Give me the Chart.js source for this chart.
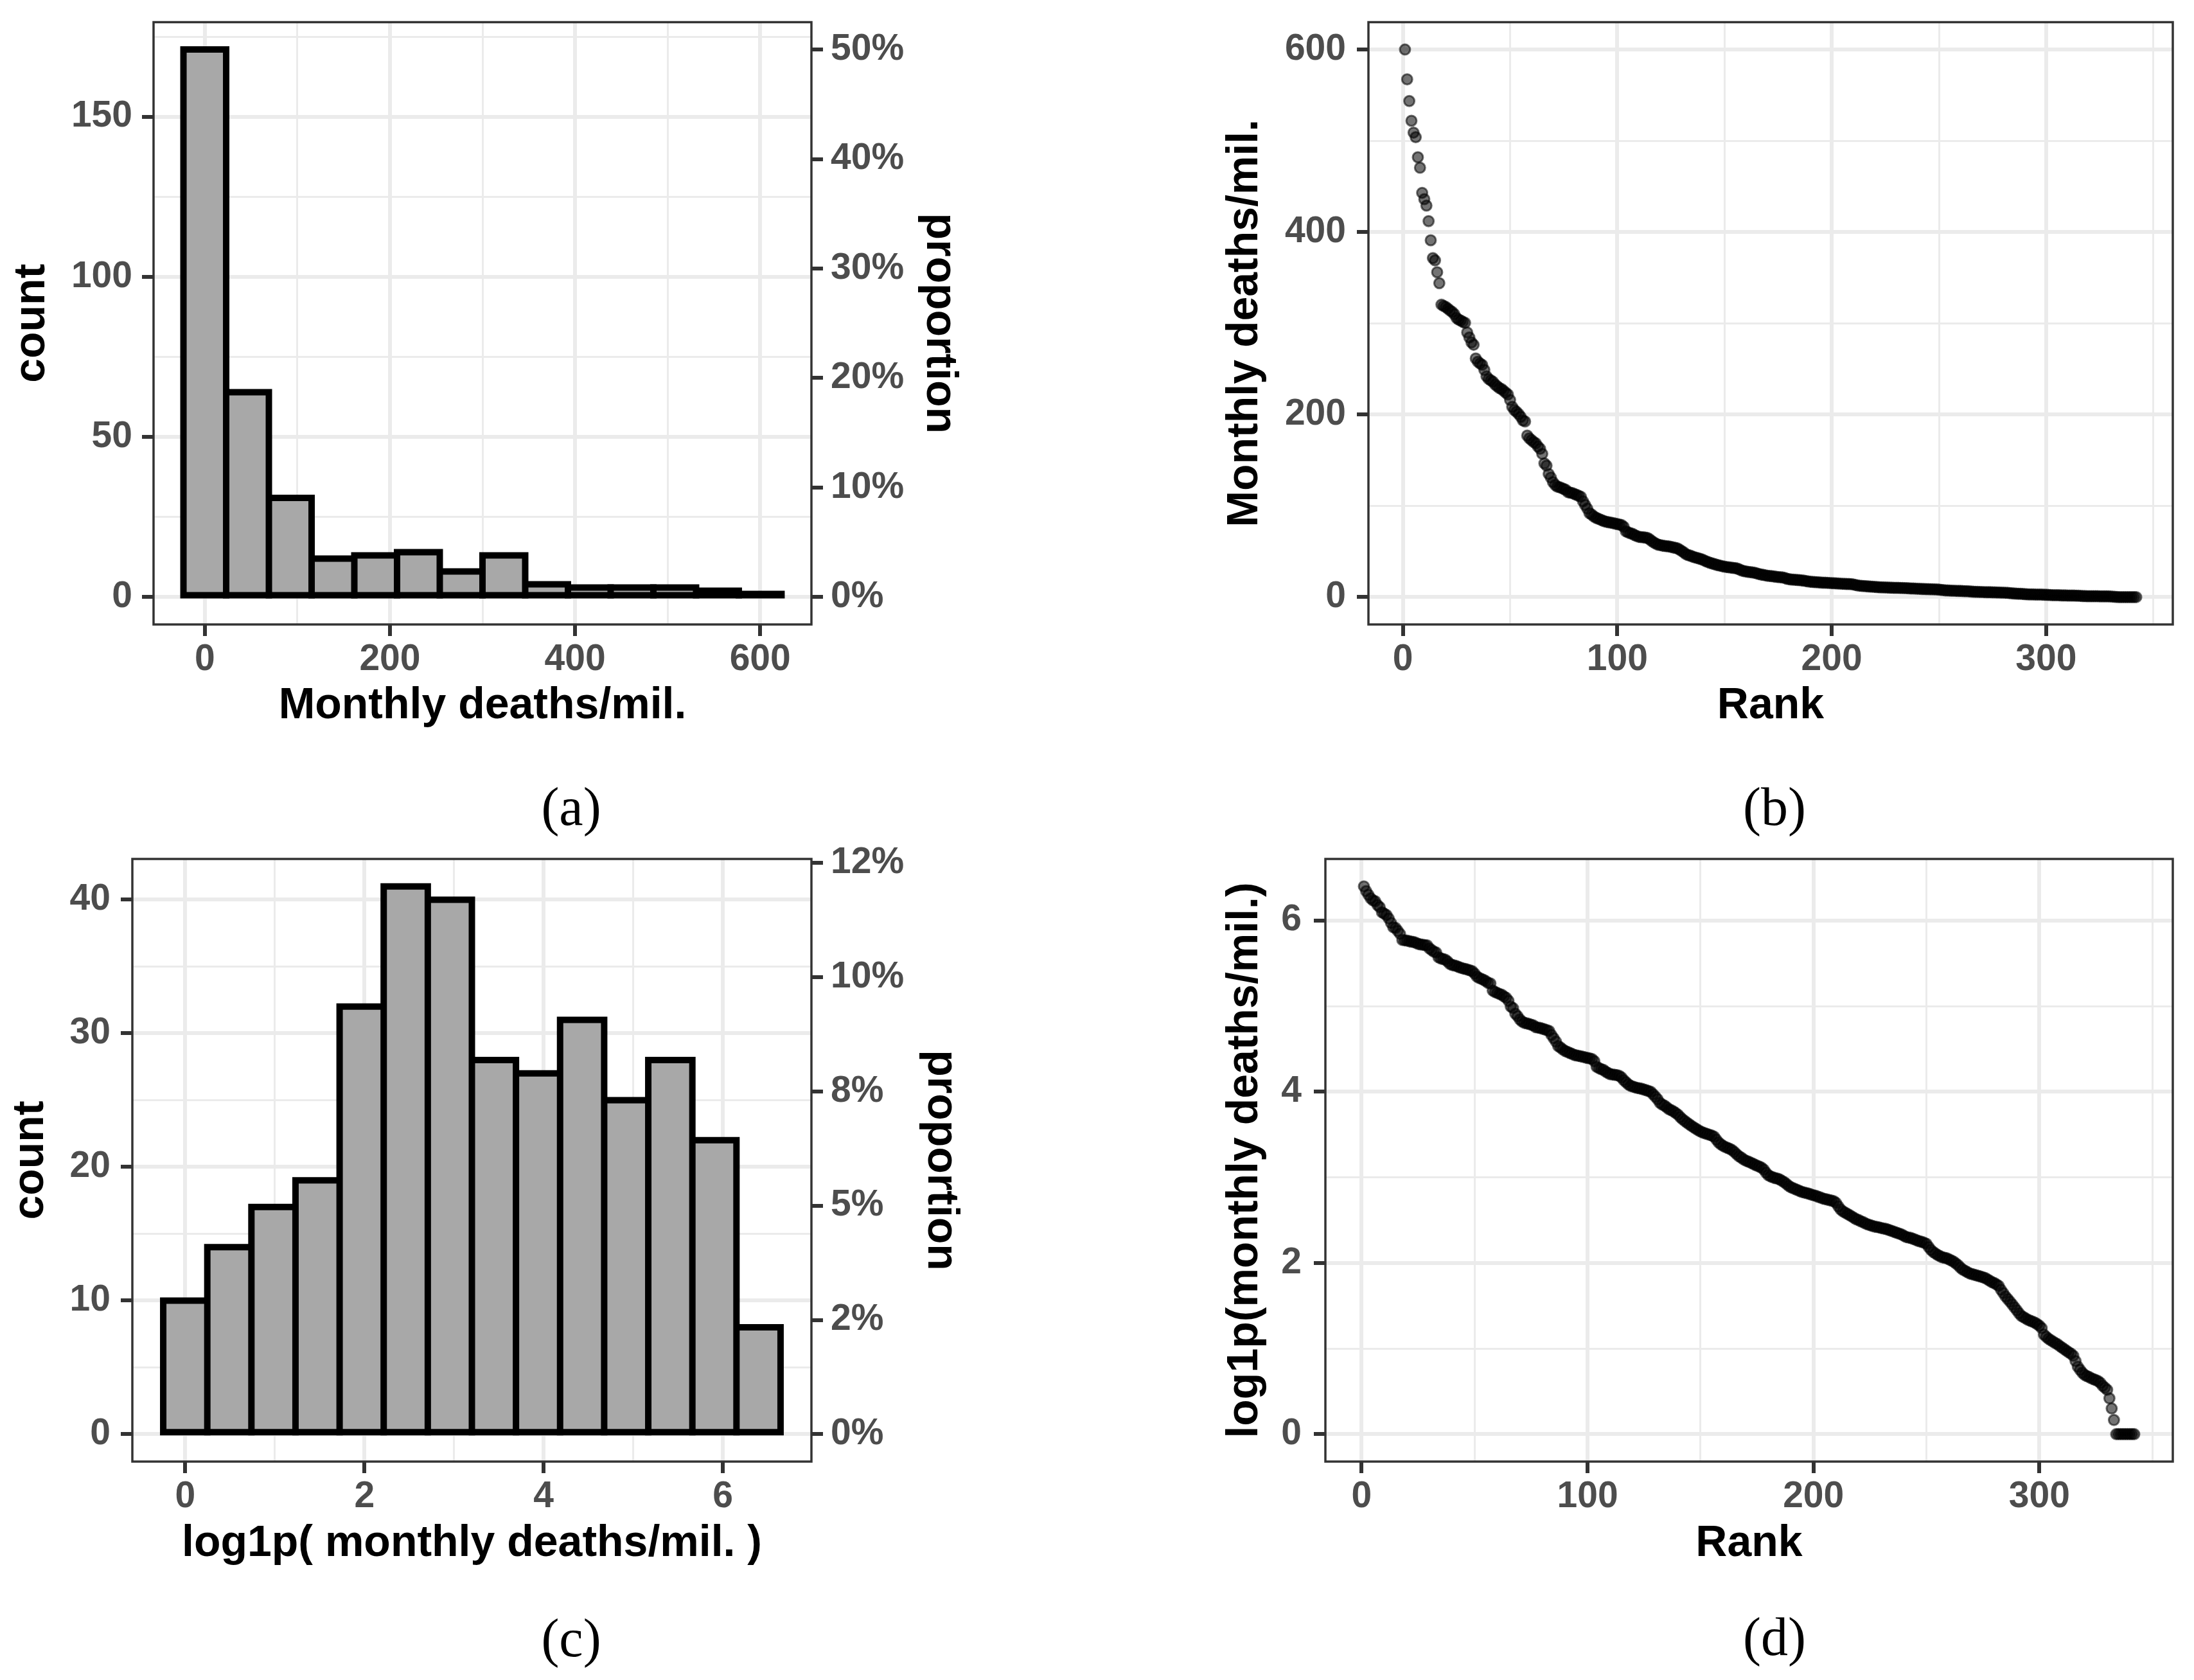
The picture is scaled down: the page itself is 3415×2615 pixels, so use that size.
<!DOCTYPE html>
<html>
<head>
<meta charset="utf-8">
<title>Monthly deaths per million</title>
<script src="https://cdn.jsdelivr.net/npm/chart.js@4.4.1/dist/chart.umd.min.js"></script>
<style>
  html, body { margin: 0; padding: 0; background: #fff; }
  #page { position: relative; width: 3415px; height: 2615px; overflow: hidden; background: #fff; }
  #page canvas { position: absolute; }
  .cap { position: absolute; font-family: "Liberation Serif", "Times New Roman", serif; font-size: 84px; line-height: 1; color: #000; transform: translate(-50%, -50%); }
</style>
</head>
<body>
<div id="page">
  <canvas id="histRaw" width="1530" height="1160" style="left:0px;top:0px"></canvas>
  <canvas id="rankRaw" width="1545" height="1160" style="left:1870px;top:0px"></canvas>
  <canvas id="histLog" width="1530" height="1180" style="left:0px;top:1290px"></canvas>
  <canvas id="rankLog" width="1545" height="1180" style="left:1870px;top:1290px"></canvas>
  <div class="cap" style="left:889px;top:1256px">(a)</div>
  <div class="cap" style="left:2762px;top:1256px">(b)</div>
  <div class="cap" style="left:889px;top:2550px">(c)</div>
  <div class="cap" style="left:2762px;top:2548px">(d)</div>
</div>
<script>
// Histogram of monthly deaths per million (a)
var rawBinCenters = [0, 46.15, 92.31, 138.46, 184.62, 230.77, 276.92, 323.08, 369.23, 415.38, 461.54, 507.69, 553.85, 600];
var rawBinWidth = 46.15;
var rawCounts = [171, 64, 31, 12, 13, 14, 8, 13, 4, 3, 3, 3, 2, 1];

// Histogram of log1p(monthly deaths per million) (c)
var logBinCenters = [0, 0.4922, 0.9844, 1.4766, 1.9688, 2.461, 2.9532, 3.4454, 3.9376, 4.4298, 4.922, 5.4142, 5.9064, 6.3986];
var logBinWidth = 0.4922;
var logCounts = [10, 14, 17, 19, 32, 41, 40, 28, 27, 31, 25, 28, 22, 8];

// Monthly deaths per million, sorted, rank 1 first (b, d)
var monthlyDeaths = [
  600, 567.4, 543.6, 522, 509, 504, 482, 470.5, 443, 436,
  429, 412, 391, 371.5, 369, 356, 344, 320.5, 319, 318,
  316, 314, 312.5, 310, 306, 304, 303, 301.5, 300.5, 290,
  284.5, 279, 276.5, 261.5, 258, 256, 254.5, 249, 242, 239,
  237.5, 236, 233, 231, 229, 228, 226, 224, 222, 216,
  208.5, 205, 203, 200.5, 197.5, 193.5, 192.5, 177, 174, 172,
  170, 168.5, 165, 162.5, 157, 146.5, 144, 135, 131, 126,
  123, 121, 120.5, 119.5, 118.5, 117.5, 115, 114.5, 114, 113,
  112, 111, 110, 105, 101, 97, 92, 90.5, 88.5, 87,
  86, 85, 84, 83, 82.5, 82, 81.5, 81, 80.5, 80,
  79.5, 79, 77, 72, 71, 70, 69.5, 68, 67, 66,
  65.8, 65.5, 65.2, 64.8, 63.5, 61.5, 60, 58.5, 57.5, 57,
  56.5, 56, 55.8, 55.5, 55, 54.5, 54, 53.5, 52, 50.5,
  49, 47, 46, 45.5, 44.5, 43.5, 43, 42.4, 41.6, 40.8,
  39.6, 38.6, 37.8, 37.0, 36.3, 35.6, 35.0, 34.4, 33.8, 33.3,
  32.9, 32.6, 32.3, 32.0, 31.7, 31.3, 30.2, 29.2, 28.5, 28.0,
  27.6, 27.3, 27.0, 26.6, 26.0, 25.3, 24.7, 24.3, 23.8, 23.4,
  23.2, 22.9, 22.6, 22.3, 22.0, 21.8, 21.5, 21.0, 20.2, 19.6,
  19.3, 19.1, 18.9, 18.8, 18.6, 18.3, 18.0, 17.6, 17.2, 16.9,
  16.7, 16.5, 16.3, 16.1, 15.9, 15.8, 15.7, 15.6, 15.4, 15.3,
  15.2, 15.0, 14.9, 14.7, 14.6, 14.5, 14.4, 14.3, 14.2, 13.9,
  13.3, 12.8, 12.5, 12.3, 12.1, 11.9, 11.7, 11.5, 11.3, 11.2,
  11.0, 10.9, 10.7, 10.6, 10.5, 10.4, 10.3, 10.25, 10.2, 10.1,
  10.05, 10.0, 9.9, 9.8, 9.7, 9.6, 9.5, 9.4, 9.3, 9.15,
  9.0, 8.95, 8.9, 8.8, 8.7, 8.6, 8.5, 8.45, 8.35, 8.25,
  7.9, 7.6, 7.4, 7.25, 7.1, 7.0, 6.9, 6.85, 6.8, 6.7,
  6.6, 6.5, 6.35, 6.2, 6.0, 5.85, 5.75, 5.65, 5.55, 5.5,
  5.45, 5.4, 5.35, 5.3, 5.25, 5.2, 5.1, 5.0, 4.9, 4.85,
  4.75, 4.65, 4.4, 4.2, 4.0, 3.85, 3.7, 3.55, 3.4, 3.25,
  3.1, 2.98, 2.92, 2.86, 2.8, 2.76, 2.72, 2.68, 2.62, 2.55,
  2.45, 2.2, 2.12, 2.05, 2.0, 1.95, 1.9, 1.86, 1.8, 1.75,
  1.7, 1.65, 1.6, 1.56, 1.5, 1.35, 1.2, 1.12, 1.05, 1.0,
  0.97, 0.95, 0.92, 0.9, 0.88, 0.86, 0.82, 0.76, 0.72, 0.68,
  0.52, 0.35, 0.18, 0, 0, 0, 0, 0, 0, 0,
  0, 0
];

// Tick values and labels
var rawTicks = [0, 200, 400, 600];
var rawMinor = [100, 300, 500];
var countTicksA = [0, 50, 100, 150];
var countMinorA = [25, 75, 125, 175];
var propTicksA = [0, 0.1, 0.2, 0.3, 0.4, 0.5];
var propLabelsA = ['0%', '10%', '20%', '30%', '40%', '50%'];

var logTicks = [0, 2, 4, 6];
var logMinor = [1, 3, 5];
var countTicksC = [0, 10, 20, 30, 40];
var countMinorC = [5, 15, 25, 35];
var propTicksC = [0, 0.025, 0.05, 0.075, 0.1, 0.125];
var propLabelsC = ['0%', '2%', '5%', '8%', '10%', '12%'];

var rankTicks = [0, 100, 200, 300];
var rankMinor = [50, 150, 250, 350];
var deathTicks = [0, 200, 400, 600];
var deathMinor = [100, 300, 500];
var logValTicks = [0, 2, 4, 6];
var logValMinor = [1, 3, 5];

var GRID_COL = '#EBEBEB';
var AXIS_COL = '#333333';
var TICK_TXT = '#4D4D4D';
var BAR_FILL = '#A8A8A8';
var BAR_LINE = 10;
var FONT = '"Liberation Sans", Arial, sans-serif';

// ggplot style panel border on top of the data
var panelFrame = {
    id: 'panelFrame',
    afterDatasetsDraw: function (chart) {
        var a = chart.chartArea;
        var ctx = chart.ctx;
        ctx.save();
        ctx.strokeStyle = AXIS_COL;
        ctx.lineWidth = 3.5;
        ctx.strokeRect(a.left, a.top, a.right - a.left, a.bottom - a.top);
        ctx.restore();
    }
};

function expand(lo, hi) {
    var pad = (hi - lo) * 0.05;
    return [lo - pad, hi + pad];
}

function sum(arr) {
    return arr.reduce(function (s, v) { return s + v; }, 0);
}

function axis(o) {
    var major = o.major;
    var minor = o.minor || [];
    return {
        type: 'linear',
        position: o.position,
        min: o.range[0],
        max: o.range[1],
        offset: false,
        afterBuildTicks: function (scale) {
            var all = major.concat(minor).sort(function (a, b) { return a - b; });
            scale.ticks = all.map(function (v) {
                return { value: v, major: major.indexOf(v) >= 0 };
            });
        },
        afterFit: function (scale) {
            if (scale.isHorizontal()) {
                scale.height = o.size;
                scale.paddingLeft = 0;
                scale.paddingRight = 0;
            } else {
                scale.width = o.size;
                scale.paddingTop = 0;
                scale.paddingBottom = 0;
            }
        },
        grid: {
            offset: false,
            drawOnChartArea: o.onArea !== false,
            color: GRID_COL,
            lineWidth: function (c) { return c.tick && c.tick.major ? 6 : 3; },
            tickLength: 18,
            tickWidth: 6,
            tickColor: function (c) { return c.tick && c.tick.major ? AXIS_COL : 'rgba(0,0,0,0)'; }
        },
        border: { display: false },
        ticks: {
            autoSkip: false,
            maxRotation: 0,
            minRotation: 0,
            padding: o.tickPad,
            color: TICK_TXT,
            font: { family: FONT, size: 57, weight: 'bold' },
            callback: function (v, i, ticks) {
                if (!ticks[i].major) {
                    return '';
                }
                return o.labels ? o.labels[major.indexOf(v)] : String(v);
            }
        },
        title: {
            display: true,
            text: o.title,
            color: '#000000',
            font: { family: FONT, size: 68, weight: 'bold' },
            padding: o.titlePad
        }
    };
}

function baseOptions(padTop, padRight, scales) {
    return {
        responsive: false,
        devicePixelRatio: 1,
        animation: false,
        layout: { padding: { top: padTop, right: padRight, bottom: 0, left: 0 } },
        plugins: { legend: { display: false }, tooltip: { enabled: false } },
        scales: scales
    };
}

// bar height in pixels, so very short bars stay solid black like the outline
function barPixelHeight(c) {
    var y = c.chart.scales.y;
    if (!c.raw) {
        return 0;
    }
    return Math.abs(y.getPixelForValue(0) - y.getPixelForValue(c.raw.y));
}

function histDatasets(centers, counts) {
    var pts = centers.map(function (c, i) { return { x: c, y: counts[i] }; });
    return [
        {   // grey fill, drawn on top
            data: pts,
            order: 0,
            grouped: false,
            backgroundColor: function (c) {
                return barPixelHeight(c) > BAR_LINE ? BAR_FILL : 'rgba(0,0,0,0)';
            },
            borderWidth: 0,
            inflateAmount: -BAR_LINE / 2,
            categoryPercentage: 1,
            barPercentage: 1,
            yAxisID: 'y'
        },
        {   // black outline, centred on the bin edges
            data: pts,
            order: 1,
            grouped: false,
            backgroundColor: '#000000',
            borderWidth: 0,
            inflateAmount: BAR_LINE / 2,
            categoryPercentage: 1,
            barPercentage: 1,
            yAxisID: 'y'
        }
    ];
}

function pointDataset(points) {
    return {
        data: points,
        pointRadius: 8,
        pointBorderWidth: 3,
        backgroundColor: 'rgba(0,0,0,0.55)',
        borderColor: 'rgba(0,0,0,0.55)'
    };
}

function histChart(id, centers, width, counts, o) {
    var total = sum(counts);
    var xr = expand(centers[0] - width / 2, centers[centers.length - 1] + width / 2);
    var yr = expand(0, Math.max.apply(null, counts));
    var scales = {
        x: axis({ position: 'bottom', range: xr, major: o.xTicks, minor: o.xMinor, size: o.xSize,
                  tickPad: 3, title: o.xTitle, titlePad: { top: 0, bottom: o.xTitlePad } }),
        y: axis({ position: 'left', range: yr, major: o.yTicks, minor: o.yMinor, size: o.ySize,
                  tickPad: o.yTickPad, title: 'count', titlePad: { top: o.yTitlePad, bottom: 0 } }),
        y2: axis({ position: 'right', range: [yr[0] / total, yr[1] / total], major: o.propTicks,
                   labels: o.propLabels, onArea: false, size: o.y2Size, tickPad: 12,
                   title: 'proportion', titlePad: { top: o.y2TitlePad, bottom: 0 } })
    };
    new Chart(document.getElementById(id), {
        type: 'bar',
        data: { datasets: histDatasets(centers, counts) },
        options: baseOptions(o.padTop, 0, scales),
        plugins: [panelFrame]
    });
}

function rankChart(id, values, o) {
    var points = values.map(function (v, i) { return { x: i + 1, y: v }; });
    var xr = expand(1, values.length);
    var yr = expand(Math.min.apply(null, values), Math.max.apply(null, values));
    var scales = {
        x: axis({ position: 'bottom', range: xr, major: rankTicks, minor: rankMinor, size: o.xSize,
                  tickPad: 3, title: 'Rank', titlePad: { top: 0, bottom: o.xTitlePad } }),
        y: axis({ position: 'left', range: yr, major: o.yTicks, minor: o.yMinor, size: o.ySize,
                  tickPad: o.yTickPad, title: o.yTitle, titlePad: { top: 27.2, bottom: 0 } })
    };
    new Chart(document.getElementById(id), {
        type: 'scatter',
        data: { datasets: [pointDataset(points)] },
        options: baseOptions(o.padTop, 33, scales),
        plugins: [panelFrame]
    });
}

histChart('histRaw', rawBinCenters, rawBinWidth, rawCounts, {
    padTop: 34.5, xSize: 188, ySize: 239, y2Size: 267,
    xTicks: rawTicks, xMinor: rawMinor, xTitle: 'Monthly deaths/mil.', xTitlePad: 20.2,
    yTicks: countTicksA, yMinor: countMinorA, yTickPad: 15, yTitlePad: 9.2,
    propTicks: propTicksA, propLabels: propLabelsA, y2TitlePad: 27.2
});

histChart('histLog', logBinCenters, logBinWidth, logCounts, {
    padTop: 47, xSize: 195, ySize: 206, y2Size: 267,
    xTicks: logTicks, xMinor: logMinor, xTitle: 'log1p( monthly deaths/mil. )', xTitlePad: 26.2,
    yTicks: countTicksC, yMinor: countMinorC, yTickPad: 16, yTitlePad: 7.2,
    propTicks: propTicksC, propLabels: propLabelsC, y2TitlePad: 25.2
});

rankChart('rankRaw', monthlyDeaths, {
    padTop: 34.5, xSize: 188, ySize: 260, xTitlePad: 20.2, yTickPad: 17,
    yTicks: deathTicks, yMinor: deathMinor, yTitle: 'Monthly deaths/mil.'
});

rankChart('rankLog', monthlyDeaths.map(function (v) { return Math.log1p(v); }), {
    padTop: 47, xSize: 195, ySize: 193, xTitlePad: 26.2, yTickPad: 19,
    yTicks: logValTicks, yMinor: logValMinor, yTitle: 'log1p(monthly deaths/mil.)'
});
</script>
</body>
</html>
